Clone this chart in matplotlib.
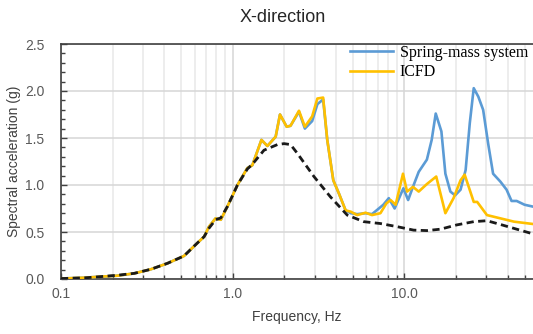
import matplotlib
matplotlib.use("Agg")
import matplotlib.pyplot as plt
from matplotlib.ticker import LogLocator, MultipleLocator, FixedLocator, NullFormatter, FixedFormatter

# ---- data ----
icfd_f = [0.1, 0.137, 0.17, 0.213, 0.267, 0.333, 0.417, 0.52, 0.62, 0.681, 0.727, 0.794, 0.852,
          0.93, 0.99, 1.065, 1.216, 1.30, 1.469, 1.591, 1.778, 1.884, 2.06, 2.17, 2.43, 2.63,
          2.90, 3.11, 3.36, 3.55, 3.85, 4.15, 4.54, 4.87, 5.3, 5.93, 6.47, 7.24, 7.85, 8.3,
          8.88, 9.8, 10.35, 11.2, 12.1, 13.5, 15.3, 17.3, 19.3, 21.2, 22.4, 25.3, 26.5, 30.2,
          36.2, 43.4, 56.0]
icfd_v = [0.005, 0.014, 0.025, 0.035, 0.06, 0.103, 0.167, 0.245, 0.38, 0.45, 0.556, 0.645, 0.63,
          0.77, 0.875, 1.0, 1.18, 1.21, 1.48, 1.415, 1.514, 1.75, 1.62, 1.63, 1.79, 1.62,
          1.73, 1.92, 1.93, 1.48, 1.05, 0.91, 0.73, 0.716, 0.68, 0.705, 0.68, 0.70, 0.805, 0.84,
          0.79, 1.12, 0.93, 0.98, 0.93, 1.01, 1.09, 0.70, 0.86, 1.05, 1.11, 0.82, 0.82, 0.68,
          0.645, 0.61, 0.585]

spring_f = [0.1, 0.137, 0.17, 0.213, 0.267, 0.333, 0.417, 0.52, 0.62, 0.681, 0.727, 0.794, 0.852,
            0.93, 0.99, 1.065, 1.216, 1.30, 1.469, 1.591, 1.778, 1.884, 2.06, 2.17, 2.43, 2.63,
            2.90, 3.11, 3.36, 3.55, 3.85, 4.15, 4.54, 4.87, 5.3, 5.93, 6.47, 7.53, 8.1, 8.76,
            9.85, 10.5, 11.2, 12.1, 13.5, 14.4, 15.2, 16.4, 17.3, 18.5, 19.7, 21.2, 22.7, 24.0,
            25.3, 26.9, 28.7, 30.7, 32.8, 36.2, 39.3, 42.0, 45.0, 50.0, 56.0]
spring_v = [0.005, 0.014, 0.025, 0.035, 0.06, 0.103, 0.167, 0.245, 0.38, 0.45, 0.556, 0.645, 0.63,
            0.77, 0.875, 1.0, 1.18, 1.21, 1.48, 1.415, 1.514, 1.75, 1.62, 1.63, 1.78, 1.60,
            1.68, 1.86, 1.91, 1.48, 1.05, 0.91, 0.73, 0.70, 0.69, 0.70, 0.69, 0.79, 0.86, 0.75,
            0.965, 0.84, 0.98, 1.14, 1.27, 1.48, 1.76, 1.57, 1.12, 0.93, 0.89, 0.95, 1.16, 1.66,
            2.03, 1.94, 1.80, 1.44, 1.12, 1.035, 0.95, 0.83, 0.83, 0.79, 0.77]

target_f = [0.1, 0.137, 0.17, 0.213, 0.267, 0.333, 0.417, 0.52, 0.62, 0.681, 0.727, 0.794, 0.852,
            0.93, 0.99, 1.065, 1.216, 1.30, 1.52, 1.82, 1.99, 2.17, 2.37, 2.97, 3.70, 4.64,
            5.79, 7.24, 9.1, 11.3, 13.5, 16.2, 20.1, 25.3, 30.2, 36.2, 47.0, 56.0]
target_v = [0.005, 0.012, 0.025, 0.04, 0.06, 0.103, 0.167, 0.245, 0.38, 0.45, 0.54, 0.63, 0.65,
            0.77, 0.875, 1.0, 1.17, 1.22, 1.37, 1.43, 1.44, 1.43, 1.34, 1.09, 0.875, 0.68,
            0.61, 0.59, 0.556, 0.52, 0.515, 0.53, 0.575, 0.61, 0.62, 0.58, 0.52, 0.48]

x_ticks = [0.1, 1.0, 10.0]
x_labels = ["0.1", "1.0", "10.0"]
y_ticks = [0.0, 0.5, 1.0, 1.5, 2.0, 2.5]
y_labels = ["0.0", "0.5", "1.0", "1.5", "2.0", "2.5"]

# ---- figure ----
W, H = 533, 334
fig = plt.figure(figsize=(W / 100, H / 100), dpi=100)
ax = fig.add_axes([61 / W, 1 - 279 / H, (W - 61) / W, (279 - 44) / H])

blue = "#5B9BD5"
gold = "#FFC000"
ax.plot(spring_f, spring_v, color=blue, lw=1.9, label="Spring-mass system", zorder=3)
ax.plot(icfd_f, icfd_v, color=gold, lw=1.9, label="ICFD", zorder=4)
ax.plot(target_f, target_v, color="#1a1a1a", lw=2.0, ls=(0, (2.6, 1.6)), zorder=5)

ax.set_xscale("log")
ax.set_xlim(0.1, 56)
ax.set_ylim(0, 2.5)

ax.xaxis.set_major_locator(FixedLocator(x_ticks))
ax.xaxis.set_major_formatter(FixedFormatter(x_labels))
ax.xaxis.set_minor_locator(LogLocator(base=10, subs=range(2, 10), numticks=20))
ax.xaxis.set_minor_formatter(NullFormatter())
ax.yaxis.set_major_locator(FixedLocator(y_ticks))
ax.yaxis.set_major_formatter(FixedFormatter(y_labels))
ax.yaxis.set_minor_locator(MultipleLocator(0.1))

ax.grid(True, which="major", color="#d6d6d6", lw=1.1)
ax.grid(True, which="minor", axis="x", color="#e8e8e8", lw=1.1)
ax.set_axisbelow(True)

ax.tick_params(which="both", direction="in", color="#404040", labelcolor="#595959",
               labelsize=10, top=False, right=False)
ax.tick_params(which="major", length=4, width=1.0)
ax.tick_params(which="minor", length=3, width=1.0)
ax.tick_params(axis="y", pad=12)
ax.tick_params(axis="x", pad=6)

for s in ["left", "bottom", "top"]:
    ax.spines[s].set_color("#404040")
    ax.spines[s].set_linewidth(1.2)
ax.spines["right"].set_visible(False)

for lab in ax.get_xticklabels() + ax.get_yticklabels():
    lab.set_family("Liberation Sans")

ax.set_xlabel("Frequency, Hz", family="Liberation Sans", fontsize=10, color="#404040", labelpad=6)
ax.set_ylabel("Spectral acceleration (g)", family="Liberation Sans", fontsize=10, color="#404040",
              labelpad=3)

fig.text(283 / W, 1 - 17 / H, "X-direction", family="Liberation Sans", fontsize=13,
         color="#262626", ha="center", va="center")

leg = ax.legend(loc="upper left", bbox_to_anchor=(350 / W, 1 - 45 / H),
                bbox_transform=fig.transFigure, frameon=False,
                prop={"family": "Liberation Serif", "size": 11.5},
                handlelength=2.7, handletextpad=0.4, borderpad=0, borderaxespad=0,
                labelspacing=0.2)

fig.savefig("out.png", dpi=100)
